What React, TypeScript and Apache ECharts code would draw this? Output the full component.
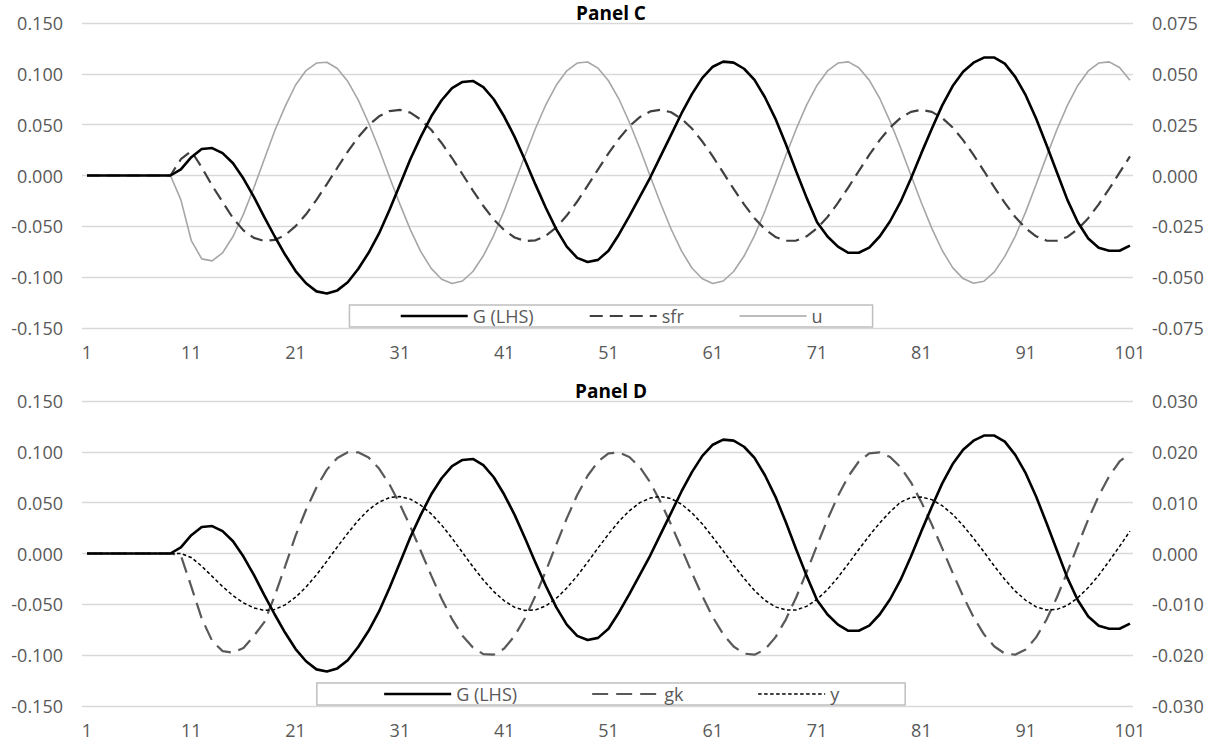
import React, { useEffect, useRef } from "react";
import * as echarts from "echarts";

const categories: number[] = Array.from({ length: 101 }, (_, i) => i + 1);
const xTickLabels = [1, 11, 21, 31, 41, 51, 61, 71, 81, 91, 101];

// G (LHS) — shared by both panels
const G = [
  0, 0, 0, 0, 0, 0, 0, 0, 0,
  0.006, 0.018, 0.026, 0.027, 0.022, 0.012, -0.003, -0.021, -0.041, -0.060,
  -0.078, -0.094, -0.106, -0.114, -0.116, -0.113, -0.105, -0.092, -0.076, -0.057,
  -0.034, -0.009, 0.016, 0.038, 0.058, 0.074, 0.086, 0.092, 0.093, 0.087,
  0.075, 0.058, 0.038, 0.015, -0.009, -0.032, -0.053, -0.070, -0.081, -0.085,
  -0.083, -0.074, -0.058, -0.040, -0.021, -0.002, 0.019, 0.040, 0.061, 0.080,
  0.096, 0.107, 0.112, 0.111, 0.105, 0.094, 0.077, 0.056, 0.031, 0.004,
  -0.022, -0.046, -0.060, -0.070, -0.076, -0.076, -0.071, -0.060, -0.045, -0.026,
  -0.003, 0.022, 0.046, 0.069, 0.088, 0.102, 0.111, 0.116, 0.116, 0.110,
  0.097, 0.079, 0.056, 0.030, 0.003, -0.024, -0.046, -0.062, -0.071, -0.074,
  -0.074, -0.069,
];

// Panel C, right axis
const sfr = [
  0, 0, 0, 0, 0, 0, 0, 0, 0,
  0.008, 0.012, 0.004, -0.005, -0.013, -0.021, -0.027, -0.0307, -0.0322, -0.0317,
  -0.0293, -0.0249, -0.0191, -0.012, -0.0042, 0.0038, 0.0117, 0.0188, 0.0247, 0.0291,
  0.0317, 0.0323, 0.0309, 0.0275, 0.0225, 0.016, 0.0086, 0.0006, -0.0074, -0.015,
  -0.0216, -0.0269, -0.0305, -0.0322, -0.0319, -0.0296, -0.0255, -0.0197, -0.0128, -0.005,
  0.003, 0.0109, 0.0181, 0.0242, 0.0287, 0.0315, 0.0323, 0.0311, 0.0279, 0.0231,
  0.0167, 0.0094, 0.0014, -0.0066, -0.0142, -0.021, -0.0264, -0.0302, -0.0321, -0.032,
  -0.0299, -0.0259, -0.0204, -0.0135, -0.0058, 0.0022, 0.0101, 0.0174, 0.0236, 0.0283,
  0.0313, 0.0323, 0.0313, 0.0283, 0.0236, 0.0174, 0.0101, 0.0022, -0.0058, -0.0135,
  -0.0204, -0.0259, -0.0299, -0.032, -0.0321, -0.0302, -0.0264, -0.021, -0.0142, -0.0066,
  0.0014, 0.0094,
];

const u = [
  0, 0, 0, 0, 0, 0, 0, 0, 0,
  -0.012, -0.032, -0.041, -0.042, -0.038, -0.03, -0.019, -0.006, 0.008, 0.022,
  0.034, 0.0445, 0.0516, 0.0553, 0.0557, 0.0526, 0.0463, 0.0372, 0.0258, 0.013,
  -0.0007, -0.0141, -0.0266, -0.0374, -0.0457, -0.051, -0.0531, -0.0519, -0.0472, -0.0395,
  -0.0294, -0.0173, -0.0037, 0.01, 0.0231, 0.0349, 0.0445, 0.0515, 0.0553, 0.0558,
  0.0528, 0.0466, 0.0376, 0.0262, 0.0134, -0.0004, -0.0138, -0.0263, -0.0371, -0.0455,
  -0.0508, -0.0531, -0.0519, -0.0472, -0.0396, -0.0296, -0.0175, -0.004, 0.0098, 0.0229,
  0.0347, 0.0444, 0.0514, 0.0553, 0.0559, 0.053, 0.0469, 0.038, 0.0266, 0.0138,
  0.0001, -0.0134, -0.026, -0.0369, -0.0453, -0.0507, -0.053, -0.052, -0.0474, -0.0398,
  -0.0299, -0.0179, -0.0044, 0.0094, 0.0226, 0.0345, 0.0443, 0.0514, 0.0553, 0.0559,
  0.0531, 0.0469,
];

// Panel D, right axis
const gk = [
  0, 0, 0, 0, 0, 0, 0, 0, 0,
  -0.0004, -0.0065, -0.0128, -0.0172, -0.0192, -0.0195, -0.0186, -0.0162, -0.0135, -0.0083,
  -0.0025, 0.0035, 0.0086, 0.013, 0.0165, 0.0188, 0.0199, 0.0199, 0.0189, 0.0167,
  0.0136, 0.0097, 0.0053, 0.0005, -0.0043, -0.0089, -0.0129, -0.0162, -0.0185, -0.0198,
  -0.0199, -0.0187, -0.0162, -0.0127, -0.0083, -0.0034, 0.0018, 0.0069, 0.0115, 0.0153,
  0.0181, 0.0197, 0.0199, 0.019, 0.017, 0.014, 0.0101, 0.0057, 0.001, -0.0038,
  -0.0084, -0.0125, -0.0159, -0.0183, -0.0197, -0.0199, -0.0189, -0.0165, -0.013, -0.0086,
  -0.0036, 0.0016, 0.0067, 0.0113, 0.0152, 0.0181, 0.0197, 0.0199, 0.019, 0.017,
  0.014, 0.0101, 0.0057, 0.001, -0.0038, -0.0084, -0.0125, -0.0159, -0.0183, -0.0197,
  -0.0199, -0.0189, -0.0165, -0.013, -0.0086, -0.0036, 0.0016, 0.0067, 0.0113, 0.0152,
  0.0181, 0.0197,
];

const y = [
  0, 0, 0, 0, 0, 0, 0, 0, 0, 0,
  -0.0008, -0.0025, -0.0045, -0.0065, -0.0083, -0.0097, -0.0107, -0.0112, -0.011,
  -0.0101, -0.0086, -0.0066, -0.0042, -0.0015, 0.0013, 0.004, 0.0065, 0.0086, 0.0101,
  0.011, 0.0112, 0.0107, 0.0095, 0.0078, 0.0056, 0.003, 0.0002, -0.0026, -0.0052,
  -0.0075, -0.0093, -0.0106, -0.0112, -0.0111, -0.0103, -0.0088, -0.0068, -0.0044, -0.0017,
  0.0011, 0.0038, 0.0063, 0.0084, 0.01, 0.0109, 0.0112, 0.0108, 0.0097, 0.008,
  0.0058, 0.0032, 0.0005, -0.0023, -0.0049, -0.0073, -0.0092, -0.0105, -0.0111, -0.0111,
  -0.0104, -0.009, -0.0071, -0.0047, -0.002, 0.0008, 0.0035, 0.006, 0.0082, 0.0101,
  0.011, 0.0111, 0.0106, 0.0094, 0.0077, 0.0055, 0.003, 0.0003, -0.0025, -0.0051,
  -0.0074, -0.0092, -0.0105, -0.0111, -0.011, -0.0102, -0.0087, -0.0067, -0.0043, -0.0015,
  0.0014, 0.0044,
];

const FONT = '"Open Sans", "Liberation Sans", sans-serif';
const LABEL_COLOR = "#595959";
const GRID_COLOR = "#d9d9d9";

const pairs = (vals: number[]) => categories.map((c, i) => [c, vals[i]]);
const fmt3 = (v: number) => (Math.abs(v) < 1e-9 ? 0 : v).toFixed(3);

export default function App() {
  const ref = useRef<HTMLDivElement>(null);

  useEffect(() => {
    if (!ref.current) return;
    const chart = echarts.init(ref.current, undefined, { renderer: "svg" });

    const labelStyle = { color: LABEL_COLOR, fontSize: 18, fontFamily: FONT };

    const xAxisBase = (gridIndex: number) => ({
      type: "value" as const,
      gridIndex,
      min: 0.52,
      max: 101.29,
      axisLine: { show: false },
      axisTick: { show: false },
      splitLine: { show: false },
      axisLabel: {
        ...labelStyle,
        margin: 15,
        customValues: xTickLabels,
        formatter: (v: number) => String(v),
      },
    });

    const yAxisBase = (gridIndex: number, lim: number, interval: number, pos: "left" | "right", split: boolean) => ({
      type: "value" as const,
      gridIndex,
      position: pos,
      min: -lim,
      max: lim,
      interval,
      axisLine: { show: false },
      axisTick: { show: false },
      splitLine: { show: split, lineStyle: { color: GRID_COLOR, width: 1.3 } },
      axisLabel: { ...labelStyle, margin: 19, formatter: fmt3 },
    });

    const legendBase = {
      left: "center",
      orient: "horizontal" as const,
      borderColor: "#bfbfbf",
      borderWidth: 1.5,
      itemWidth: 67,
      itemHeight: 10,
      textStyle: { color: LABEL_COLOR, fontSize: 18, fontFamily: FONT, lineHeight: 16 },
    };

    const gStyle = { color: "#000000", width: 2.6, type: "solid" as const };
    const sfrStyle = { color: "#404040", width: 2.2, type: [13, 7] as number[] };
    const uStyle = { color: "#a6a6a6", width: 1.6, type: "solid" as const };
    const gkStyle = { color: "#595959", width: 2.2, type: [16, 8] as number[] };
    const yStyle = { color: "#000000", width: 1.5, type: [3.5, 2.5] as number[] };

    const legendItem = (name: string, ls: any) => ({
      name,
      lineStyle: ls,
      itemStyle: { opacity: 0, borderWidth: 0 },
    });

    const line = (name: string, data: number[], xi: number, yi: number, ls: any, z: number) => ({
      name,
      type: "line" as const,
      xAxisIndex: xi,
      yAxisIndex: yi,
      data: pairs(data),
      showSymbol: false,
      symbol: "none",
      smooth: false,
      z,
      lineStyle: ls,
      itemStyle: { color: ls.color },
      emphasis: { disabled: true },
    });

    chart.setOption({
      animation: false,
      title: [
        {
          text: "Panel C",
          left: "center",
          top: 3,
          padding: 0,
          textStyle: { fontFamily: FONT, fontWeight: "bold", fontSize: 19, color: "#000", lineHeight: 20 },
        },
        {
          text: "Panel D",
          left: "center",
          top: 381,
          padding: 0,
          textStyle: { fontFamily: FONT, fontWeight: "bold", fontSize: 19, color: "#000", lineHeight: 20 },
        },
      ],
      grid: [
        { left: 82, width: 1051, top: 23, height: 305 },
        { left: 82, width: 1051, top: 401, height: 305 },
      ],
      xAxis: [xAxisBase(0), xAxisBase(1)],
      yAxis: [
        yAxisBase(0, 0.15, 0.05, "left", true),
        yAxisBase(0, 0.075, 0.025, "right", false),
        yAxisBase(1, 0.15, 0.05, "left", true),
        yAxisBase(1, 0.03, 0.01, "right", false),
      ],
      legend: [
        {
          ...legendBase,
          top: 305,
          padding: [2, 50, 2, 50],
          itemGap: 55,
          data: [legendItem("G (LHS)", gStyle), legendItem("sfr", sfrStyle), legendItem("u", uStyle)],
        },
        {
          ...legendBase,
          top: 683,
          padding: [2, 66, 2, 66],
          itemGap: 74,
          data: [legendItem("G (LHS)", gStyle), legendItem("gk", gkStyle), legendItem("y", yStyle)],
        },
      ],
      series: [
        line("u", u, 0, 1, uStyle, 2),
        line("sfr", sfr, 0, 1, sfrStyle, 3),
        line("G (LHS)", G, 0, 0, gStyle, 4),
        line("gk", gk, 1, 3, gkStyle, 2),
        line("y", y, 1, 3, yStyle, 3),
        line("G (LHS)", G, 1, 2, gStyle, 4),
      ],
    });

    return () => chart.dispose();
  }, []);

  return (
    <div
      ref={ref}
      style={{ position: "absolute", left: 0, top: 0, width: 1222, height: 744, background: "#ffffff" }}
    />
  );
}
